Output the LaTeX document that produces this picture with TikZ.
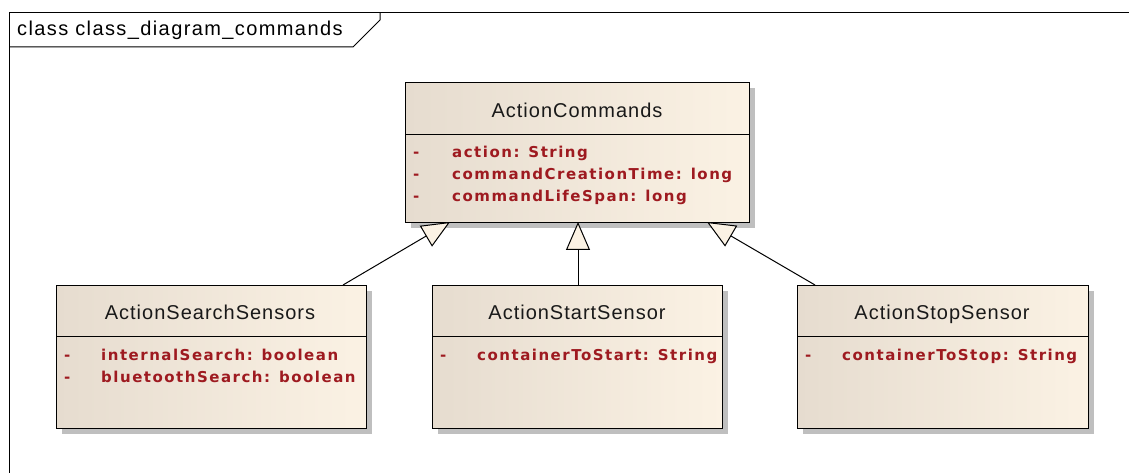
\documentclass[tikz,border=0pt]{standalone}
\usepackage{fontspec}
\setmainfont{Liberation Sans}
\newfontfamily\titlefont[LetterSpace=7]{Liberation Sans}
\newfontfamily\headfont[LetterSpace=5]{Liberation Sans}
\newfontfamily\attrfont[LetterSpace=10]{DejaVu Sans}
\usetikzlibrary{positioning, arrows.meta, calc, shadows}
\definecolor{boxleft}{HTML}{E6DCCF}
\definecolor{boxright}{HTML}{FBF2E4}
\definecolor{attrred}{HTML}{9E1A20}

\begin{document}
\begin{tikzpicture}[x=1pt, y=1pt,
  classbox/.style={draw, line width=1.2pt, left color=boxleft, right color=boxright, anchor=north west, inner sep=0pt,
    drop shadow={shadow xshift=5pt, shadow yshift=-5pt, fill=black!25, opacity=1}},
  headtext/.style={font=\headfont\fontsize{20}{24}\selectfont, text=black!90, anchor=base, inner sep=0pt},
  attrtext/.style={font=\attrfont\bfseries\fontsize{15}{18}\selectfont, text=attrred, anchor=base west, inner sep=0pt},
  inherit/.style={draw, line width=1pt, -{Triangle[open, length=28pt, width=24pt, fill=boxright]}}]
\useasboundingbox (0,0) rectangle (1129,473);

% Frame
\draw[line width=1pt] (9,0) -- (9,460) -- (1129,460);
\draw[line width=1pt] (9,426) -- (353,426) -- (380,453) -- (380,460);
\node[anchor=base west, inner sep=0pt, font=\titlefont\fontsize{20}{24}\selectfont] (title) at (17,437) {class class\_diagram\_commands};

% Base class
\node[classbox, minimum width=344pt, minimum height=140pt] (cmd) at (405,391) {};
\draw[line width=1pt] (cmd.west |- 0,338) -- (cmd.east |- 0,338);
\node[headtext] (cmdname) at (577,355) {ActionCommands};
\node[attrtext] at (413,315) {-}; \node[attrtext] (cmdA) at (452,315) {action: String};
\node[attrtext] at (413,293) {-}; \node[attrtext] (cmdB) at (452,293) {commandCreationTime: long};
\node[attrtext] at (413,271) {-}; \node[attrtext] (cmdC) at (452,271) {commandLifeSpan: long};

% Sub classes
\node[classbox, minimum width=310pt, minimum height=143pt] (search) at (56,188) {};
\draw[line width=1pt] (search.west |- 0,136) -- (search.east |- 0,136);
\node[headtext] (searchname) at (210,153) {ActionSearchSensors};
\node[attrtext] at (64,112) {-}; \node[attrtext] (searchA) at (101,112) {internalSearch: boolean};
\node[attrtext] at (64,90) {-}; \node[attrtext] (searchB) at (101,90) {bluetoothSearch: boolean};

\node[classbox, minimum width=290pt, minimum height=143pt] (start) at (432,188) {};
\draw[line width=1pt] (start.west |- 0,136) -- (start.east |- 0,136);
\node[headtext] (startname) at (577,153) {ActionStartSensor};
\node[attrtext] at (440,112) {-}; \node[attrtext] (startA) at (477,112) {containerToStart: String};

\node[classbox, minimum width=291pt, minimum height=143pt] (stop) at (797,188) {};
\draw[line width=1pt] (stop.west |- 0,136) -- (stop.east |- 0,136);
\node[headtext] (stopname) at (942,153) {ActionStopSensor};
\node[attrtext] at (805,112) {-}; \node[attrtext] (stopA) at (842,112) {containerToStop: String};

% Generalisations
\coordinate (tipL) at (450,251);
\coordinate (tipM) at (578,251);
\coordinate (tipR) at (707,251);
\draw[inherit] (search.north west -| 343,0) -- (tipL);
\draw[inherit] (start.north west -| 578,0) -- (tipM);
\draw[inherit] (stop.north west -| 815,0) -- (tipR);
\end{tikzpicture}
\end{document}
